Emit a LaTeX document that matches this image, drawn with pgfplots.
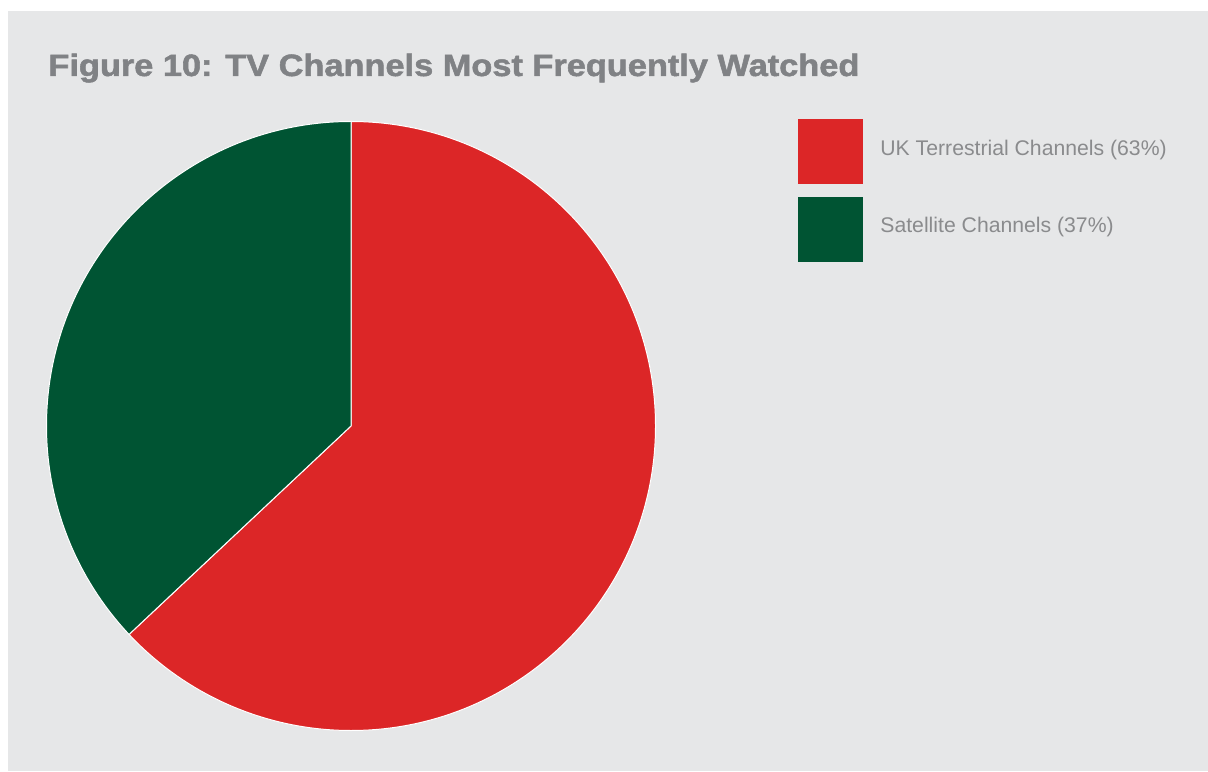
\documentclass[border=0pt]{standalone}
\usepackage{graphicx}
\usepackage{pgfplots}
\usepackage{pgfplotstable}
\pgfplotsset{compat=1.18}
\usepackage{fontspec}
\setmainfont{Liberation Sans}
\newfontfamily\titlefont{Liberation Sans}[BoldFeatures={FakeBold=1.6}]
\definecolor{bg}{HTML}{E6E7E8}
\definecolor{pred}{HTML}{DC2627}
\definecolor{pgreen}{HTML}{005433}
\definecolor{titlegray}{HTML}{808285}
\definecolor{txtgray}{HTML}{8A8B8D}

\pgfplotstableread{
label value
{UK Terrestrial Channels} 63
{Satellite Channels} 37
}\piedata

\begin{document}
\begin{tikzpicture}
\pgfplotstablegetelem{0}{value}\of\piedata \let\va\pgfplotsretval
\pgfplotstablegetelem{1}{value}\of\piedata \let\vb\pgfplotsretval
\pgfplotstablegetelem{0}{label}\of\piedata \let\la\pgfplotsretval
\pgfplotstablegetelem{1}{label}\of\piedata \let\lb\pgfplotsretval
\pgfmathsetmacro{\tot}{\va+\vb}
\pgfmathsetmacro{\ea}{90-360*(\va/\tot)}
\pgfmathsetmacro{\eb}{90+360*(\vb/\tot)}
\begin{axis}[
  x=0.5pt, y=0.5pt,
  xmin=0, xmax=1208, ymin=0, ymax=771,
  hide axis, clip=false,
]
\fill[white] (axis cs:0,0) rectangle (axis cs:1208,771);
\fill[bg] (axis cs:8,0) rectangle (axis cs:1208,760);
% pie
\filldraw[fill=pred, draw=white, line width=0.5pt]
  (axis cs:351,345) -- ++(90:152.25pt) arc[start angle=90, end angle=\ea, radius=152.25pt] -- cycle;
\filldraw[fill=pgreen, draw=white, line width=0.5pt]
  (axis cs:351,345) -- ++(90:152.25pt) arc[start angle=90, end angle=\eb, radius=152.25pt] -- cycle;
% title
\node[anchor=base west, inner sep=0pt, text=titlegray, font=\titlefont\bfseries\fontsize{15.4}{18}\selectfont]
  at (axis cs:48,695) {\scalebox{1.115}[1]{Figure 10: TV Channels Most Frequently Watched}};
% legend
\fill[pred] (axis cs:798,652) rectangle (axis cs:863,587);
\fill[pgreen] (axis cs:798,574) rectangle (axis cs:863,509);
\node[anchor=base west, inner sep=0pt, text=txtgray, font=\fontsize{10.6}{12}\selectfont]
  at (axis cs:880,615) {\la{} (\va\%)};
\node[anchor=base west, inner sep=0pt, text=txtgray, font=\fontsize{10.6}{12}\selectfont]
  at (axis cs:880,538) {\lb{} (\vb\%)};
\end{axis}
\end{tikzpicture}
\end{document}
